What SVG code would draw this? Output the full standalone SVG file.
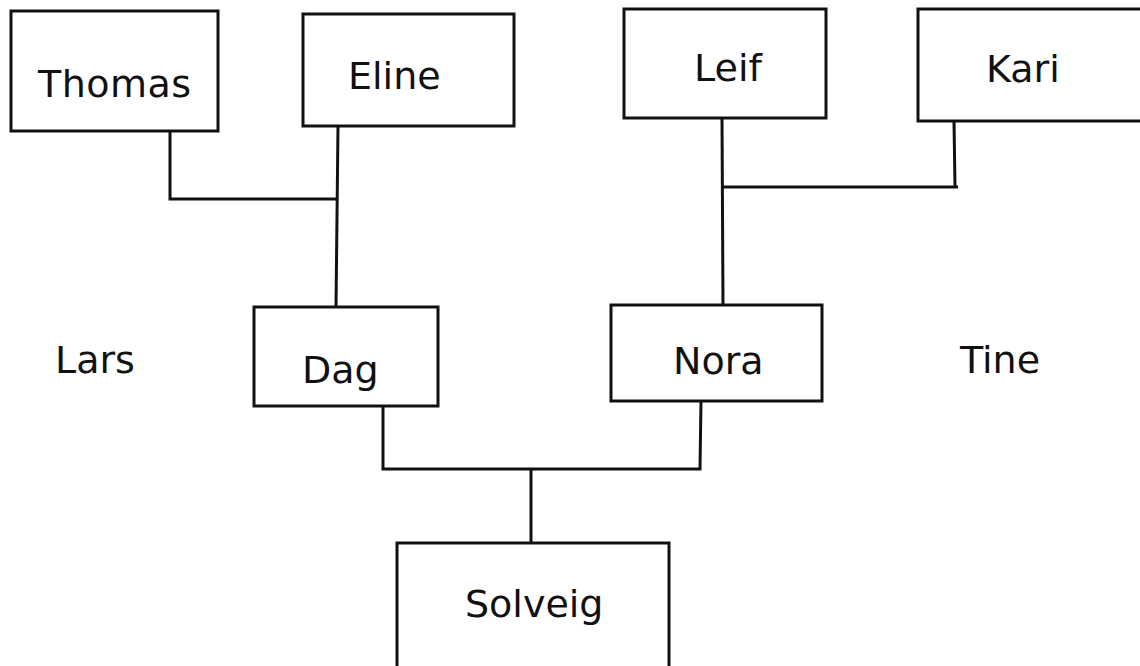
<svg xmlns="http://www.w3.org/2000/svg" width="1140" height="666" viewBox="0 0 1140 666">
<style>
.box{fill:#fff;stroke:#111;stroke-width:3}
.lbl{font-family:"DejaVu Sans",Verdana,sans-serif;font-size:38px;fill:#111}
.con{fill:none;stroke:#111;stroke-width:3}
</style>
<rect width="1140" height="666" fill="#fff"/>
<g id="connectors">
<polyline class="con" points="170,131 170,199 337,199"/>
<polyline class="con" points="338,126 336,307"/>
<polyline class="con" points="722,118 723,305"/>
<polyline class="con" points="723,187 958,187"/>
<polyline class="con" points="954,121 955,187"/>
<polyline class="con" points="383,406 383,469 700,469 701,401"/>
<polyline class="con" points="531,469 531,543"/>
</g>
<g id="thomas"><rect class="box" x="11" y="11" width="207" height="120"/><text class="lbl" x="38" y="97" textLength="153">Thomas</text></g>
<g id="eline"><rect class="box" x="303" y="14" width="211" height="112"/><text class="lbl" x="348" y="89">Eline</text></g>
<g id="leif"><rect class="box" x="624" y="9" width="202" height="109"/><text class="lbl" x="694" y="81">Leif</text></g>
<g id="kari"><rect class="box" x="918" y="9" width="230" height="112"/><text class="lbl" x="986" y="82">Kari</text></g>
<g id="lars"><text class="lbl" x="55" y="373">Lars</text></g>
<g id="dag"><rect class="box" x="254" y="307" width="184" height="99"/><text class="lbl" x="302" y="383">Dag</text></g>
<g id="nora"><rect class="box" x="611" y="305" width="211" height="96"/><text class="lbl" x="673" y="374">Nora</text></g>
<g id="tine"><text class="lbl" x="960" y="373">Tine</text></g>
<g id="solveig"><rect class="box" x="397" y="543" width="272" height="130"/><text class="lbl" x="465" y="617">Solveig</text></g>
</svg>
